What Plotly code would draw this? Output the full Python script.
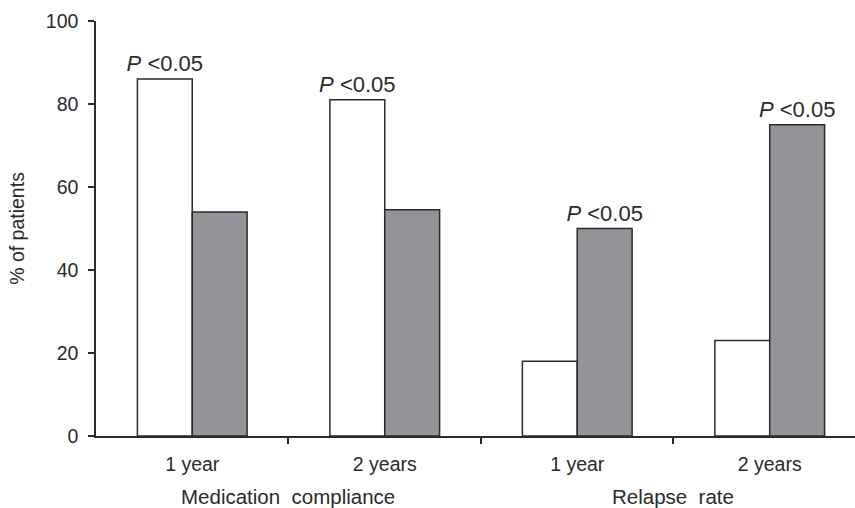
import plotly.graph_objects as go

# Outcome categories (subgroup label, parent group)
categories = ["1 year", "2 years", "1 year", "2 years"]
groups = ["Medication compliance", "Relapse rate"]

# Percent of patients per category for the two arms
values_open = [86, 81, 18, 23]
values_grey = [54, 54.5, 50, 75]

# Which bars carry a significance marker
sig_open = [True, True, False, False]
sig_grey = [False, False, True, True]

y_ticks = [0, 20, 40, 60, 80, 100]

FONT = "Liberation Sans, Arial, Helvetica, sans-serif"
INK = "#2a2a2a"
SIG = "<i>P</i> &lt;0.05"

x = list(range(len(categories)))


def sig_text(flags):
    return [SIG if f else "" for f in flags]


fig = go.Figure()
fig.add_trace(go.Bar(
    x=x, y=values_open, name="Group 1",
    marker=dict(color="white", line=dict(color=INK, width=1.5)),
    text=sig_text(sig_open), textposition="outside", constraintext="none",
    outsidetextfont=dict(family=FONT, size=22, color=INK), cliponaxis=False,
))
fig.add_trace(go.Bar(
    x=x, y=values_grey, name="Group 2",
    marker=dict(color="#939497", line=dict(color=INK, width=1.5)),
    text=sig_text(sig_grey), textposition="outside", constraintext="none",
    outsidetextfont=dict(family=FONT, size=22, color=INK), cliponaxis=False,
))

# Group labels centred under each pair of categories
for i, g in enumerate(groups):
    fig.add_annotation(
        x=2 * i + 0.5, y=0, xref="x", yref="paper",
        text=g.replace(" ", "&nbsp;&nbsp;"), showarrow=False,
        yanchor="top", yshift=-47,
        font=dict(family=FONT, size=20.5, color=INK),
    )

fig.update_layout(
    width=855, height=508,
    margin=dict(l=96, r=0, t=21, b=72),
    paper_bgcolor="white", plot_bgcolor="white",
    barmode="group", bargap=0.43, bargroupgap=0,
    showlegend=False,
    font=dict(family=FONT, size=19, color=INK),
)
fig.update_xaxes(
    range=[-0.5, 3.443],
    tickmode="array", tickvals=x, ticktext=categories,
    ticks="", ticklabelstandoff=10,
    showline=True, linecolor=INK, linewidth=1.5,
    showgrid=False, zeroline=False,
    minor=dict(tickmode="array", tickvals=[0.5, 1.5, 2.5], ticks="outside",
               ticklen=6, tickwidth=1.5, tickcolor=INK, showgrid=False),
    tickfont=dict(family=FONT, size=19.5, color=INK),
)
fig.update_yaxes(
    range=[0, 100], tickvals=y_ticks,
    ticks="outside", ticklen=6, tickwidth=1.5, tickcolor=INK,
    ticklabelstandoff=6,
    showline=True, linecolor=INK, linewidth=1.5,
    showgrid=False, zeroline=False,
    title=dict(text="% of patients", standoff=16,
               font=dict(family=FONT, size=19.5, color=INK)),
    tickfont=dict(family=FONT, size=19.5, color=INK),
)

fig.write_html("out.html")
